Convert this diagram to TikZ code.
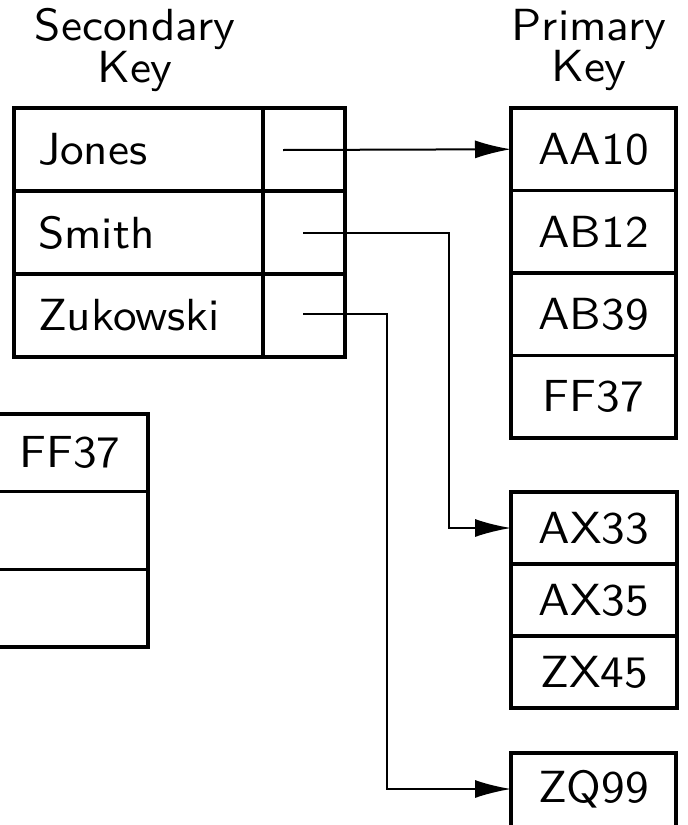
\documentclass[tikz,border=0pt]{standalone}
\usepackage{fontspec}
\usetikzlibrary{arrows.meta}
\newfontfamily\kfam{lmsans10-regular.otf}[FakeStretch=1.05]
\newcommand\kf{\fontsize{45}{40}\selectfont\kfam}
\begin{document}
\begin{tikzpicture}[x=1pt,y=-1pt,
  cell/.style={draw, line width=3.3pt, inner sep=0pt, outer sep=0pt, font=\kf},
  namecell/.style={cell, minimum height=83pt, text width=201pt, inner xsep=24pt, align=left},
  ptrcell/.style={cell, minimum height=83pt, minimum width=82pt},
  pcell/.style={cell, minimum height=82.5pt, minimum width=165pt},
  axcell/.style={cell, minimum height=72pt, minimum width=166pt},
  lcell/.style={cell, minimum height=77.7pt, minimum width=156pt},
  title/.style={font=\kf, align=center, inner sep=0pt},
  conn/.style={line width=2pt},
  arr/.style={conn, -{Latex[length=36pt,width=18pt]}}
]
\useasboundingbox (0,0) rectangle (688,825);
\fill[white] (0,0) rectangle (688,825);

% titles
\node[title] (sectitle) at (135,50) {Secondary\\Key};
\node[title] (primtitle) at (589,50) {Primary\\Key};

% secondary key table
\node[namecell] (jones) at (138.5,149.5) {Jones};
\node[namecell] (smith) at (138.5,232.5) {Smith};
\node[namecell] (zuk) at (138.5,315.5) {Zukowski};
\node[ptrcell] (pj) at (304,149.5) {};
\node[ptrcell] (ps) at (304,232.5) {};
\node[ptrcell] (pz) at (304,315.5) {};

% primary key lists
\node[pcell] (aa10) at (593.5,149.25) {AA10};
\node[pcell] (ab12) at (593.5,231.75) {AB12};
\node[pcell] (ab39) at (593.5,314.25) {AB39};
\node[pcell] (ff37) at (593.5,396.75) {FF37};

\node[axcell] (ax33) at (594,528) {AX33};
\node[axcell] (ax35) at (594,600) {AX35};
\node[axcell] (zx45) at (594,672) {ZX45};

\node[cell, minimum height=84pt, minimum width=165pt, anchor=north] (zqbox) at (593.5,753) {};
\node[font=\kf, inner sep=0pt] (zq99) at (593.5,789) {ZQ99};

% partial table on the left
\node[lcell] (lff37) at (70,452.8) {FF37};
\node[lcell] (lr2) at (70,530.5) {};
\node[lcell] (lr3) at (70,608.2) {};

% pointers
\coordinate (sj) at (283,150);
\coordinate (ss) at (303,233);
\coordinate (sz) at (303,314);
\draw[arr] (sj) -- (aa10.west);
\draw[arr] (ss) -- ++(146,0) |- (ax33.west);
\draw[arr] (sz) -- ++(84,0) |- (zqbox.west |- zq99);
\end{tikzpicture}
\end{document}
